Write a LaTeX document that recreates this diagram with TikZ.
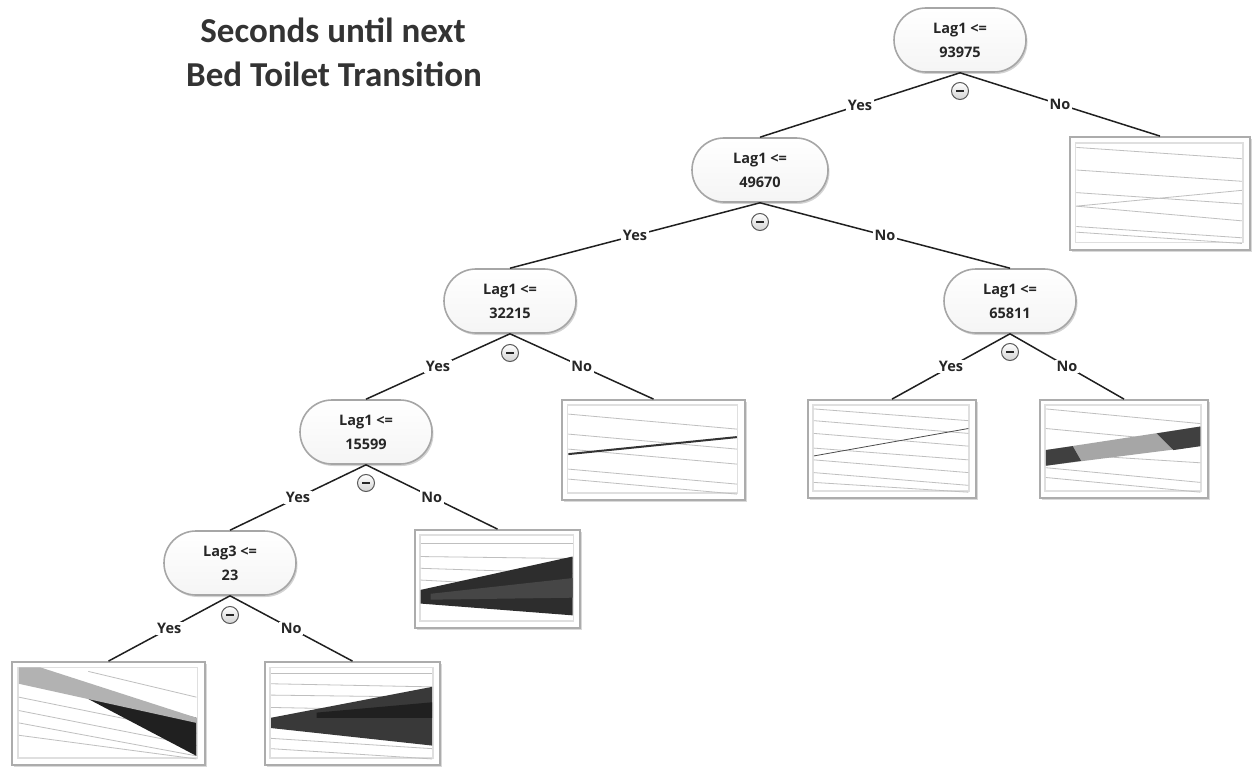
\documentclass[tikz,border=0pt]{standalone}
\usepackage{fontspec}
\setmainfont{Carlito}
\newfontfamily\uifont{Open Sans}
\usetikzlibrary{shadows,calc}
\begin{document}
\begin{tikzpicture}[x=1pt,y=-1pt,
  pill/.style={draw=gray!70,line width=1.6pt,top color=white,bottom color=gray!8,rounded corners=32pt,
    minimum width=132pt,minimum height=64pt,align=center,font=\uifont\bfseries\fontsize{14.5}{24}\selectfont,text=black!85,
    drop shadow={shadow xshift=1.5pt,shadow yshift=-2pt,opacity=0.35}},
  minus/.style={circle,draw=gray!70!black,line width=1pt,top color=white,bottom color=gray!35,inner sep=0pt,minimum size=17pt},
  leaf/.style={draw=gray!65,line width=1.8pt,fill=white,
    drop shadow={shadow xshift=2pt,shadow yshift=-2pt,opacity=0.3}},
  edge/.style={draw=gray!25!black,line width=1.5pt},
  lab/.style={fill=white,inner sep=1.5pt,font=\uifont\bfseries\fontsize{14.5}{14.5}\selectfont,text=black!85},
  thin/.style={draw=gray!50,line width=0.8pt},
  ]
\useasboundingbox (0,0) rectangle (1252,767);
% title
\node[font=\bfseries\fontsize{35}{40}\selectfont,text=black!80] (t1) at (333,30) {Seconds until next};
\node[font=\bfseries\fontsize{35}{40}\selectfont,text=black!80] (t2) at (334,74) {Bed Toilet Transition};

% decision nodes
\node[pill] (n1) at (960,40) {Lag1 <=\\93975};
\node[pill,minimum width=136pt] (n2) at (760,170) {Lag1 <=\\49670};
\node[pill] (n3) at (510,301) {Lag1 <=\\32215};
\node[pill] (n4) at (1010,301) {Lag1 <=\\65811};
\node[pill] (n5) at (366,432) {Lag1 <=\\15599};
\node[pill] (n6) at (230,563) {Lag3 <=\\23};

% leaves
\node[leaf,minimum width=180pt,minimum height=113pt] (l1) at (1160,193.5) {};
\node[leaf,minimum width=183pt,minimum height=100pt] (l2) at (653.5,450) {};
\node[leaf,minimum width=168pt,minimum height=98pt] (l3) at (892,449) {};
\node[leaf,minimum width=168pt,minimum height=98pt] (l4) at (1124,449) {};
\node[leaf,minimum width=165pt,minimum height=98pt] (l5) at (497.5,579) {};
\node[leaf,minimum width=193pt,minimum height=103pt] (l6) at (108.5,713.5) {};
\node[leaf,minimum width=175pt,minimum height=103pt] (l7) at (352.5,713.5) {};

% leaf interiors
\foreach \L/\w/\h in {l1/180/113,l2/183/100,l3/168/98,l4/168/98,l5/165/98,l6/193/103,l7/175/103}{
  \begin{scope}[shift={(\L.north west)},x=\w pt,y=-\h pt]
    \draw[gray!25,line width=1.5pt] (0.035,0.06) rectangle (0.965,0.94);
  \end{scope}
}
% l1
\begin{scope}[shift={(l1.north west)},x=180pt,y=-113pt]
  \foreach \a/\b in {0.1/0.25,0.3/0.45,0.5/0.65,0.62/0.8,0.8/0.95,0.85/1.0}
    \draw[thin] (0.04,\a) -- (0.96,\b-0.05);
  \draw[thin] (0.04,0.62) -- (0.96,0.48);
\end{scope}
% l2
\begin{scope}[shift={(l2.north west)},x=183pt,y=-100pt]
  \foreach \a/\b in {0.15/0.3,0.35/0.5,0.5/0.65,0.7/0.85,0.8/0.95}
    \draw[thin] (0.04,\a) -- (0.96,\b);
  \draw[gray!40!black,line width=2pt] (0.04,0.55) -- (0.96,0.38);
\end{scope}
% l3
\begin{scope}[shift={(l3.north west)},x=168pt,y=-98pt]
  \foreach \a/\b in {0.1/0.22,0.22/0.35,0.35/0.48,0.5/0.62,0.62/0.75,0.75/0.88,0.85/0.95}
    \draw[thin] (0.04,\a) -- (0.96,\b);
  \draw[gray!60!black,line width=0.8pt] (0.04,0.58) -- (0.96,0.3);
\end{scope}
% l4
\begin{scope}[shift={(l4.north west)},x=168pt,y=-98pt]
  \foreach \a/\b in {0.1/0.25,0.3/0.45,0.55/0.65,0.7/0.85,0.8/0.95}
    \draw[thin] (0.04,\a) -- (0.96,\b);
  \fill[gray!70] (0.04,0.52) -- (0.96,0.28) -- (0.96,0.48) -- (0.04,0.68) -- cycle;
  \fill[gray!50!black] (0.04,0.52) -- (0.2,0.48) -- (0.25,0.63) -- (0.04,0.68) -- cycle;
  \fill[gray!50!black] (0.7,0.35) -- (0.96,0.28) -- (0.96,0.48) -- (0.8,0.52) -- cycle;
\end{scope}
% l5
\begin{scope}[shift={(l5.north west)},x=165pt,y=-98pt]
  \foreach \a/\b in {0.15/0.15,0.28/0.3,0.4/0.45,0.52/0.6}
    \draw[thin] (0.04,\a) -- (0.96,\b);
  \fill[gray!35!black] (0.04,0.62) -- (0.96,0.28) -- (0.96,0.88) -- (0.04,0.76) -- cycle;
  \fill[gray!55!black] (0.1,0.66) -- (0.96,0.5) -- (0.96,0.7) -- (0.1,0.72) -- cycle;
\end{scope}
% l6
\begin{scope}[shift={(l6.north west)},x=193pt,y=-103pt]
  \foreach \a/\b in {0.35/0.7,0.48/0.82,0.6/0.92,0.72/0.95}
    \draw[thin] (0.04,\a) -- (0.96,\b);
  \draw[thin] (0.4,0.1) -- (0.96,0.35);
  \fill[gray!25!black] (0.25,0.22) -- (0.96,0.55) -- (0.96,0.92) -- cycle;
  \fill[gray!60] (0.04,0.06) -- (0.15,0.06) -- (0.96,0.55) -- (0.96,0.6) -- (0.04,0.22) -- cycle;
\end{scope}
% l7
\begin{scope}[shift={(l7.north west)},x=175pt,y=-103pt]
  \foreach \a/\b in {0.12/0.12,0.22/0.25,0.33/0.35,0.45/0.48,0.75/0.85,0.85/0.95}
    \draw[thin] (0.04,\a) -- (0.96,\b);
  \fill[gray!45!black] (0.04,0.55) -- (0.96,0.25) -- (0.96,0.82) -- (0.04,0.65) -- cycle;
  \fill[gray!25!black] (0.3,0.5) -- (0.96,0.4) -- (0.96,0.55) -- (0.3,0.55) -- cycle;
\end{scope}

% connectors
\draw[edge] (n1.south) -- node[lab]{Yes} (n2.north);
\draw[edge] (n1.south) -- node[lab]{No} (l1.north);
\draw[edge] (n2.south) -- node[lab]{Yes} (n3.north);
\draw[edge] (n2.south) -- node[lab]{No} (n4.north);
\draw[edge] (n3.south) -- node[lab]{Yes} (n5.north);
\draw[edge] (n3.south) -- node[lab]{No} (l2.north);
\draw[edge] (n4.south) -- node[lab]{Yes} (l3.north);
\draw[edge] (n4.south) -- node[lab]{No} (l4.north);
\draw[edge] (n5.south) -- node[lab]{Yes} (n6.north);
\draw[edge] (n5.south) -- node[lab]{No} (l5.north);
\draw[edge] (n6.south) -- node[lab]{Yes} (l6.north);
\draw[edge] (n6.south) -- node[lab]{No} (l7.north);

% collapse markers
\foreach \m/\p in {m1/{(960,91)},m2/{(760,222)},m3/{(510,353)},m4/{(1010,352)},m5/{(366,483)},m6/{(230,615)}}{
  \node[minus] (\m) at \p {};
  \fill[black!85] ($(\m.center)+(-4,-1.2)$) rectangle ($(\m.center)+(4,1.2)$);
}
\end{tikzpicture}
\end{document}
